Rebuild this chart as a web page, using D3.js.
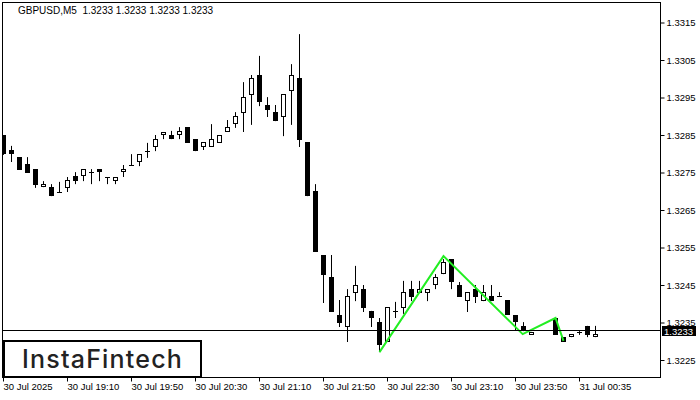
<!DOCTYPE html>
<html><head><meta charset="utf-8">
<script src="https://cdn.jsdelivr.net/npm/d3@7"></script>
<style>html,body{margin:0;padding:0;background:#fff;}svg{display:block;}</style>
</head><body>
<svg id="c" width="700" height="400"></svg>
<script>
const symbol = "GBPUSD,M5";
const opens  = [1.32850,1.32810,1.32791,1.32773,1.32759,1.32711,1.32711,1.32699,1.32709,1.32741,1.32741,1.32751,1.32759,1.32738,1.32727,1.32751,1.32770,1.32778,1.32807,1.32818,1.32850,1.32850,1.32850,1.32871,1.32839,1.32818,1.32818,1.32829,1.32858,1.32879,1.32909,1.32957,1.33010,1.32930,1.32911,1.32898,1.32967,1.33002,1.32831,1.32701,1.32530,1.32471,1.32370,1.32338,1.32429,1.32439,1.32381,1.32351,1.32298,1.32381,1.32389,1.32439,1.32429,1.32429,1.32450,1.32479,1.32519,1.32450,1.32407,1.32439,1.32407,1.32421,1.32421,1.32410,1.32370,1.32341,1.32317,1.32330,1.32330,1.32362,1.32311,1.32311,1.32325,1.32341,1.32311,1.32330];
const highs  = [1.32850,1.32821,1.32791,1.32791,1.32759,1.32727,1.32719,1.32725,1.32738,1.32751,1.32759,1.32759,1.32759,1.32738,1.32738,1.32770,1.32799,1.32799,1.32829,1.32850,1.32858,1.32861,1.32871,1.32871,1.32839,1.32831,1.32879,1.32850,1.32890,1.32911,1.32991,1.33010,1.33061,1.32951,1.32930,1.32959,1.33039,1.33119,1.32831,1.32719,1.32530,1.32530,1.32410,1.32439,1.32501,1.32450,1.32381,1.32362,1.32391,1.32405,1.32461,1.32461,1.32461,1.32439,1.32479,1.32519,1.32519,1.32458,1.32431,1.32450,1.32450,1.32450,1.32431,1.32410,1.32370,1.32351,1.32325,1.32330,1.32330,1.32362,1.32311,1.32319,1.32327,1.32341,1.32341,1.32330];
const lows   = [1.32797,1.32778,1.32757,1.32749,1.32709,1.32711,1.32687,1.32698,1.32698,1.32719,1.32727,1.32719,1.32727,1.32719,1.32719,1.32738,1.32770,1.32767,1.32789,1.32807,1.32839,1.32839,1.32839,1.32829,1.32807,1.32810,1.32818,1.32829,1.32858,1.32869,1.32858,1.32877,1.32927,1.32898,1.32887,1.32847,1.32877,1.32818,1.32687,1.32538,1.32402,1.32378,1.32338,1.32298,1.32407,1.32378,1.32338,1.32271,1.32298,1.32362,1.32373,1.32407,1.32429,1.32407,1.32439,1.32479,1.32439,1.32418,1.32378,1.32402,1.32407,1.32407,1.32421,1.32370,1.32330,1.32327,1.32317,1.32330,1.32330,1.32317,1.32298,1.32311,1.32317,1.32311,1.32311,1.32330];
const closes = [1.32799,1.32799,1.32757,1.32749,1.32717,1.32719,1.32687,1.32699,1.32730,1.32727,1.32759,1.32751,1.32751,1.32738,1.32738,1.32759,1.32770,1.32799,1.32807,1.32839,1.32858,1.32839,1.32861,1.32829,1.32807,1.32831,1.32839,1.32850,1.32871,1.32901,1.32951,1.33002,1.32938,1.32917,1.32887,1.32959,1.33010,1.32837,1.32687,1.32538,1.32477,1.32378,1.32349,1.32421,1.32450,1.32389,1.32362,1.32290,1.32391,1.32381,1.32431,1.32418,1.32439,1.32439,1.32471,1.32511,1.32458,1.32418,1.32431,1.32418,1.32431,1.32407,1.32421,1.32370,1.32351,1.32327,1.32325,1.32330,1.32330,1.32317,1.32298,1.32319,1.32325,1.32317,1.32319,1.32330];
const timeTickIndex = [0,8,16,24,32,40,48,56,64,72];
const timeTickLabels = ["30 Jul 2025","30 Jul 19:10","30 Jul 19:50","30 Jul 20:30","30 Jul 21:10","30 Jul 21:50","30 Jul 22:30","30 Jul 23:10","30 Jul 23:50","31 Jul 00:35"];
const priceTicks = [1.3225,1.3235,1.3245,1.3255,1.3265,1.3275,1.3285,1.3295,1.3305,1.3315];
const currentPrice = 1.3233;
const patternIndex = [47,55,64.9,69,70];
const patternPrice = [1.32271,1.32527,1.32319,1.32362,1.32301];

const svg = d3.select("#c");
const F = "Tahoma, 'Liberation Sans', Arial, sans-serif";
const x = d3.scaleLinear().domain([0, 75]).range([3.5, 603.5]);
const y = d3.scaleLinear().domain([1.3225, 1.3315]).range([360, 22.5]);
const L = 2.5, R = 660.5, T = 2.5, B = 377.5;

svg.append("defs").append("clipPath").attr("id","pc")
  .append("rect").attr("x",L).attr("y",T).attr("width",R-L).attr("height",B-T);

const plot = svg.append("g").attr("clip-path","url(#pc)");
const data = opens.map((o,i)=>({i,o,h:highs[i],l:lows[i],c:closes[i]}));
const cg = plot.selectAll("g.c").data(data).join("g");
cg.append("line")
  .attr("x1",d=>x(d.i)).attr("x2",d=>x(d.i))
  .attr("y1",d=>y(d.h)).attr("y2",d=>y(d.l))
  .attr("stroke","#000").attr("stroke-width",1);
cg.each(function(d){
  const g = d3.select(this);
  const top = y(Math.max(d.o,d.c)), bot = y(Math.min(d.o,d.c));
  if (Math.abs(bot-top) < 1) {
    g.append("line").attr("x1",x(d.i)-2.5).attr("x2",x(d.i)+2.5)
      .attr("y1",Math.round(top)+0.5).attr("y2",Math.round(top)+0.5)
      .attr("stroke","#000").attr("stroke-width",1);
  } else if (d.c < d.o) {
    g.append("rect").attr("x",x(d.i)-2.5).attr("width",5)
      .attr("y",Math.round(top)).attr("height",Math.max(1,Math.round(bot)-Math.round(top)))
      .attr("fill","#000");
  } else {
    g.append("rect").attr("x",x(d.i)-2).attr("width",4)
      .attr("y",Math.round(top)+0.5).attr("height",Math.max(1,Math.round(bot)-Math.round(top)-1))
      .attr("fill","#fff").attr("stroke","#000").attr("stroke-width",1);
  }
});

// pattern line
const pts = patternIndex.map((v,k)=>[x(v), y(patternPrice[k])]);
plot.append("path").attr("d", d3.line()(pts))
  .attr("fill","none").attr("stroke","#22ee22").attr("stroke-width",2).attr("stroke-linejoin","miter");

// current price line
svg.append("line").attr("x1",L).attr("x2",R)
  .attr("y1",Math.round(y(currentPrice))+0.5).attr("y2",Math.round(y(currentPrice))+0.5)
  .attr("stroke","#000").attr("stroke-width",1);

// frame
svg.append("rect").attr("x",L).attr("y",T).attr("width",R-L).attr("height",B-T)
  .attr("fill","none").attr("stroke","#000").attr("stroke-width",1);

// right axis
const ya = d3.axisRight(y).tickValues(priceTicks).tickFormat(d3.format(".4f")).tickSize(4).tickPadding(2);
const yg = svg.append("g").attr("transform",`translate(${R},0)`).call(ya);
yg.select(".domain").remove();
yg.selectAll("text").attr("font-family",F).attr("font-size","9.5px").attr("fill","#000");
yg.selectAll("line").attr("stroke","#000");

// bottom axis
const xa = d3.axisBottom(x).tickValues(timeTickIndex)
  .tickFormat((d,k)=>timeTickLabels[k]).tickSize(4).tickPadding(2);
const xg = svg.append("g").attr("transform",`translate(-0.5,${B})`).call(xa);
xg.select(".domain").remove();
xg.selectAll("text").attr("text-anchor","start").attr("x",0).attr("dy","0.71em")
  .attr("font-family",F).attr("font-size","9.5px").attr("fill","#000");
xg.selectAll("line").attr("stroke","#000");

// current price label
const cy = Math.round(y(currentPrice));
svg.append("rect").attr("x",662).attr("y",cy-4).attr("width",34).attr("height",10).attr("fill","#000");
svg.append("text").attr("x",664).attr("y",cy+4.5).text(d3.format(".4f")(currentPrice))
  .attr("font-family",F).attr("font-size","9.5px").attr("fill","#fff");

// title
const cp = d3.format(".4f")(closes[closes.length-1]);
svg.append("text").attr("x",18).attr("y",14)
  .text(`${symbol}  ${cp} ${cp} ${cp} ${cp}`)
  .style("white-space","pre")
  .attr("font-family",F).attr("font-size","10px").attr("fill","#000");

// logo
svg.append("rect").attr("x",4).attr("y",341).attr("width",197).attr("height",36)
  .attr("fill","#fff").attr("stroke","#000").attr("stroke-width",2);
svg.append("text").attr("x",22).attr("y",368).text("InstaFintech")
  .attr("font-family","Inter, 'Open Sans', sans-serif").attr("font-weight",500)
  .attr("font-size","25px").attr("letter-spacing","1.2px").attr("fill","#222");
</script>
</body></html>
